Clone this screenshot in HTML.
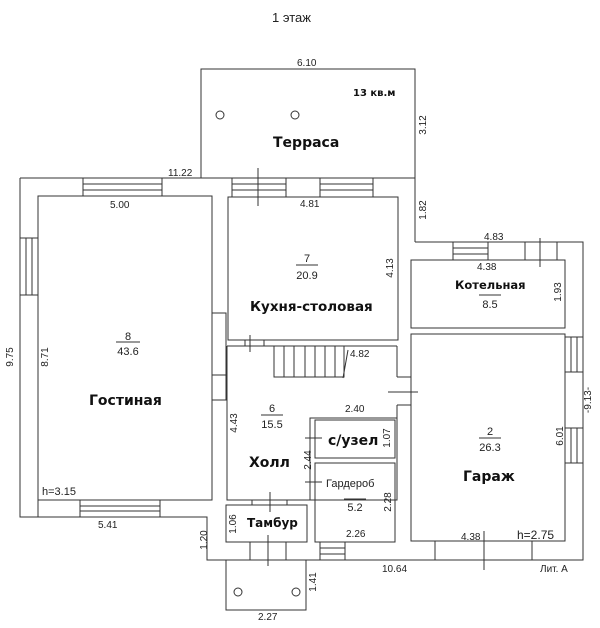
<!DOCTYPE html>
<html><head><meta charset="utf-8"><style>
body{margin:0;background:#fff}
svg{display:block}
text{font-family:"Liberation Sans",sans-serif;fill:#222}
.b{font-family:"DejaVu Sans","Liberation Sans",sans-serif;font-weight:bold;fill:#111}
</style></head><body>
<svg width="600" height="628" viewBox="0 0 600 628" fill="none" stroke="#333" stroke-width="1">
<text x="272" y="22" font-size="13" stroke="none">1 этаж</text>
<!-- terrace -->
<rect x="201" y="69" width="214" height="109"/>
<line x1="415" y1="178" x2="415" y2="242"/>
<circle cx="220" cy="115" r="4"/><circle cx="295" cy="115" r="4"/>
<text x="297" y="66" font-size="10" stroke="none">6.10</text>
<text x="353" y="96" font-size="10" class="b" stroke="none">13 кв.м</text>
<text x="273" y="147" font-size="14" class="b" stroke="none">Терраса</text>
<text x="426" y="125" font-size="10" stroke="none" transform="rotate(-90 426 125)" text-anchor="middle">3.12</text>
<text x="426" y="210" font-size="10" stroke="none" transform="rotate(-90 426 210)" text-anchor="middle">1.82</text>
<!-- outer walls -->
<polyline points="20,178 413,178"/>
<polyline points="20,178 20,517 207,517 207,560 583,560 583,242 415,242"/>
<!-- living -->
<rect x="38" y="196" width="174" height="304"/>
<line x1="38" y1="500" x2="38" y2="517"/>
<rect x="83" y="178" width="79" height="18"/><line x1="83" y1="184" x2="162" y2="184"/><line x1="83" y1="190" x2="162" y2="190"/>
<rect x="20" y="238" width="18" height="57"/><line x1="26" y1="238" x2="26" y2="295"/><line x1="32" y1="238" x2="32" y2="295"/>
<rect x="80" y="500" width="80" height="17"/><line x1="80" y1="506" x2="160" y2="506"/><line x1="80" y1="511" x2="160" y2="511"/>
<line x1="212" y1="222" x2="212" y2="313" stroke-dasharray="2,2"/>
<line x1="228" y1="222" x2="228" y2="313" stroke-dasharray="2,2"/>
<line x1="212" y1="400" x2="212" y2="430" stroke-dasharray="2,2"/>
<rect x="212" y="313" width="14" height="62"/>
<rect x="212" y="375" width="14" height="25"/>
<text x="168" y="176" font-size="10" stroke="none">11.22</text>
<text x="110" y="208" font-size="10" stroke="none">5.00</text>
<text x="13" y="357" font-size="10" stroke="none" transform="rotate(-90 13 357)" text-anchor="middle">9.75</text>
<text x="48" y="357" font-size="10" stroke="none" transform="rotate(-90 48 357)" text-anchor="middle">8.71</text>
<text x="128" y="340" font-size="11" stroke="none" text-anchor="middle">8</text>
<line x1="116" y1="342" x2="140" y2="342"/>
<text x="128" y="355" font-size="11" stroke="none" text-anchor="middle">43.6</text>
<text x="89" y="405" font-size="14" class="b" stroke="none">Гостиная</text>
<text x="42" y="495" font-size="11" stroke="none">h=3.15</text>
<text x="98" y="528" font-size="10" stroke="none">5.41</text>
<!-- kitchen -->
<rect x="228" y="197" width="170" height="143"/>
<rect x="232" y="178" width="54" height="19"/><line x1="232" y1="184" x2="286" y2="184"/><line x1="232" y1="190" x2="286" y2="190"/>
<rect x="320" y="178" width="53" height="19"/><line x1="320" y1="184" x2="373" y2="184"/><line x1="320" y1="190" x2="373" y2="190"/>
<line x1="258" y1="168" x2="258" y2="206"/>
<text x="300" y="207" font-size="10" stroke="none">4.81</text>
<text x="307" y="262" font-size="11" stroke="none" text-anchor="middle">7</text>
<line x1="296" y1="265" x2="318" y2="265"/>
<text x="307" y="279" font-size="11" stroke="none" text-anchor="middle">20.9</text>
<text x="250" y="311" font-size="13.5" class="b" stroke="none">Кухня-столовая</text>
<text x="393" y="268" font-size="10" stroke="none" transform="rotate(-90 393 268)" text-anchor="middle">4.13</text>
<!-- hall -->
<line x1="227" y1="346" x2="397" y2="346"/>
<polyline points="227,346 227,500 397,500 397,405"/>
<line x1="397" y1="346" x2="397" y2="377"/>
<line x1="245" y1="340" x2="245" y2="346"/><line x1="264" y1="340" x2="264" y2="346"/>
<line x1="250" y1="335" x2="250" y2="352"/>
<rect x="274" y="346" width="70" height="31"/>
<line x1="284" y1="346" x2="284" y2="377"/><line x1="294" y1="346" x2="294" y2="377"/><line x1="305" y1="346" x2="305" y2="377"/><line x1="315" y1="346" x2="315" y2="377"/><line x1="325" y1="346" x2="325" y2="377"/><line x1="335" y1="346" x2="335" y2="377"/>
<line x1="348" y1="350" x2="343" y2="378"/>
<text x="350" y="357" font-size="10" stroke="none">4.82</text>
<line x1="397" y1="377" x2="411" y2="377"/><line x1="397" y1="405" x2="411" y2="405"/>
<line x1="388" y1="392" x2="418" y2="392"/>
<text x="345" y="412" font-size="10" stroke="none">2.40</text>
<text x="237" y="423" font-size="10" stroke="none" transform="rotate(-90 237 423)" text-anchor="middle">4.43</text>
<text x="272" y="412" font-size="11" stroke="none" text-anchor="middle">6</text>
<line x1="261" y1="415" x2="283" y2="415"/>
<text x="272" y="428" font-size="11" stroke="none" text-anchor="middle">15.5</text>
<text x="249" y="467" font-size="14" class="b" stroke="none">Холл</text>
<text x="311" y="460" font-size="10" stroke="none" transform="rotate(-90 311 460)" text-anchor="middle">2.44</text>
<rect x="310" y="418" width="87" height="82"/>
<rect x="315" y="420" width="80" height="38"/>
<rect x="315" y="463" width="80" height="79"/>
<line x1="305" y1="438" x2="322" y2="438"/><line x1="305" y1="482" x2="322" y2="482"/>
<text x="328" y="445" font-size="14" class="b" stroke="none">с/узел</text>
<text x="390" y="438" font-size="10" stroke="none" transform="rotate(-90 390 438)" text-anchor="middle">1.07</text>
<text x="326" y="487" font-size="11" stroke="none">Гардероб</text>
<line x1="344" y1="499" x2="366" y2="499"/>
<text x="355" y="511" font-size="11" stroke="none" text-anchor="middle">5.2</text>
<text x="391" y="502" font-size="10" stroke="none" transform="rotate(-90 391 502)" text-anchor="middle">2.28</text>
<text x="346" y="537" font-size="10" stroke="none">2.26</text>
<rect x="320" y="542" width="25" height="18"/><line x1="320" y1="548" x2="345" y2="548"/><line x1="320" y1="554" x2="345" y2="554"/>
<!-- tambour -->
<rect x="226" y="505" width="81" height="37"/>
<line x1="252" y1="500" x2="252" y2="505"/><line x1="287" y1="500" x2="287" y2="505"/>
<line x1="270" y1="492" x2="270" y2="512"/>
<text x="247" y="527" font-size="12" class="b" stroke="none">Тамбур</text>
<text x="236" y="524" font-size="10" stroke="none" transform="rotate(-90 236 524)" text-anchor="middle">1.06</text>
<text x="207" y="540" font-size="10" stroke="none" transform="rotate(-90 207 540)" text-anchor="middle">1.20</text>
<line x1="250" y1="542" x2="250" y2="560"/><line x1="286" y1="542" x2="286" y2="560"/>
<line x1="268" y1="535" x2="268" y2="566"/>
<!-- porch -->
<rect x="226" y="560" width="80" height="50"/>
<circle cx="238" cy="592" r="4"/><circle cx="296" cy="592" r="4"/>
<text x="316" y="582" font-size="10" stroke="none" transform="rotate(-90 316 582)" text-anchor="middle">1.41</text>
<text x="258" y="620" font-size="10" stroke="none">2.27</text>
<text x="382" y="572" font-size="10" stroke="none">10.64</text>
<!-- kotelnaya -->
<rect x="411" y="260" width="154" height="68"/>
<rect x="453" y="242" width="35" height="18"/><line x1="453" y1="248" x2="488" y2="248"/><line x1="453" y1="254" x2="488" y2="254"/>
<rect x="525" y="242" width="32" height="18"/>
<line x1="540" y1="238" x2="540" y2="267"/>
<text x="484" y="240" font-size="10" stroke="none">4.83</text>
<text x="477" y="270" font-size="10" stroke="none">4.38</text>
<text x="455" y="289" font-size="11.5" class="b" stroke="none">Котельная</text>
<line x1="479" y1="295" x2="501" y2="295"/>
<text x="490" y="308" font-size="11" stroke="none" text-anchor="middle">8.5</text>
<text x="561" y="292" font-size="10" stroke="none" transform="rotate(-90 561 292)" text-anchor="middle">1.93</text>
<!-- garage -->
<rect x="411" y="334" width="154" height="207"/>
<rect x="565" y="337" width="18" height="35"/><line x1="571" y1="337" x2="571" y2="372"/><line x1="577" y1="337" x2="577" y2="372"/>
<rect x="565" y="428" width="18" height="35"/><line x1="571" y1="428" x2="571" y2="463"/><line x1="577" y1="428" x2="577" y2="463"/>
<rect x="435" y="541" width="97" height="19"/>
<line x1="484" y1="531" x2="484" y2="570"/>
<text x="591" y="400" font-size="10" stroke="none" transform="rotate(-90 591 400)" text-anchor="middle">-9.13-</text>
<text x="563" y="436" font-size="10" stroke="none" transform="rotate(-90 563 436)" text-anchor="middle">6.01</text>
<text x="490" y="435" font-size="11" stroke="none" text-anchor="middle">2</text>
<line x1="479" y1="438" x2="501" y2="438"/>
<text x="490" y="451" font-size="11" stroke="none" text-anchor="middle">26.3</text>
<text x="463" y="481" font-size="14" class="b" stroke="none">Гараж</text>
<text x="461" y="540" font-size="10" stroke="none">4.38</text>
<text x="517" y="539" font-size="12" stroke="none">h=2.75</text>
<text x="540" y="572" font-size="10" stroke="none">Лит. А</text>
</svg>
</body></html>
